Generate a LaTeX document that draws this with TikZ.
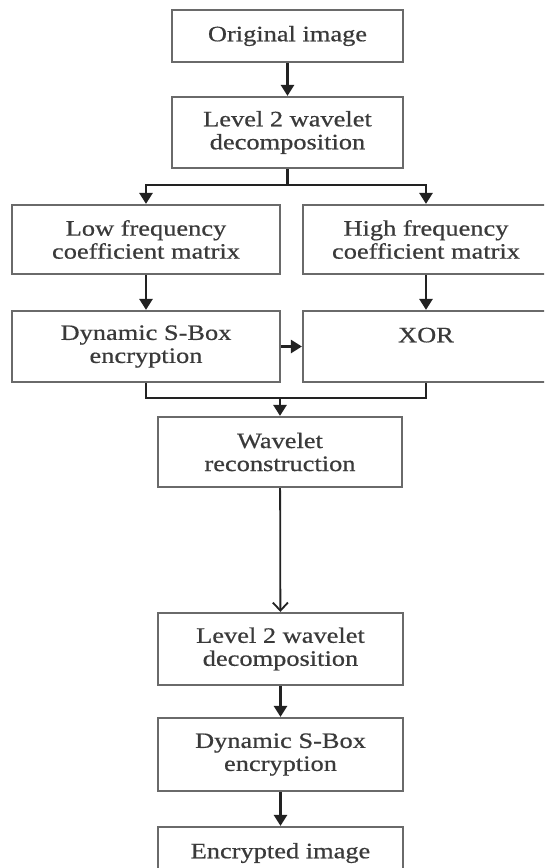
\documentclass[tikz,border=0pt]{standalone}
\usepackage{fontspec}
\setmainfont{Liberation Serif}[FakeStretch=1.2, FakeBold=0.6]
\usepackage{tikz}
\usetikzlibrary{arrows.meta, positioning}
\definecolor{boxgray}{HTML}{6A6A6A}
\definecolor{txtgray}{HTML}{3A3A3A}
\definecolor{linegray}{HTML}{222222}

\begin{document}
\begin{tikzpicture}[x=1pt, y=-1pt,
        box/.style={rectangle, draw=boxgray, line width=2.2pt, fill=white, text=txtgray,
            align=center, inner sep=0pt, font=\fontsize{22}{23}\selectfont},
        wide/.style={box, minimum width=231pt},
        arrow/.style={draw=linegray, line width=2.6pt, -{Triangle[length=11pt, width=13pt]}},
        wire/.style={draw=linegray, line width=2.6pt},
        thin arrow/.style={draw=linegray, line width=1.8pt, -{Straight Barb[length=8pt, width=15pt]}}
    ]
        \path[use as bounding box, clip] (0,0) rectangle (544,868);
        \fill[white] (0,0) rectangle (544,868);

        % top part
        \node[wide, minimum height=52pt] (orig) at (287.5,36) {Original image};
        \node[wide, minimum height=71pt] (dec1) at (287.5,132.5) {Level 2 wavelet\\decomposition};
        \node[box, minimum width=268pt, minimum height=69pt] (low) at (146,239.5) {Low frequency\\coefficient matrix};
        \node[box, minimum width=246pt, minimum height=69pt] (high) at (426,239.5) {High frequency\\coefficient matrix};
        \node[box, minimum width=268pt, minimum height=71pt] (sbox1) at (146,346.5) {Dynamic S-Box\\encryption};
        \node[box, minimum width=246pt, minimum height=71pt] (xor) at (426,346.5) {XOR\\\mbox{}};
        \node[box, minimum width=244pt, minimum height=70pt] (wrec) at (280,452) {Wavelet\\reconstruction};

        % bottom part
        \node[box, minimum width=245pt, minimum height=72pt] (dec2) at (280.5,649) {Level 2 wavelet\\decomposition};
        \node[box, minimum width=245pt, minimum height=73pt] (sbox2) at (280.5,754.5) {Dynamic S-Box\\encryption};
        \node[box, minimum width=245pt, minimum height=52pt] (enc) at (280.5,853) {Encrypted image};

        \coordinate (split) at (287.5,185);
        \coordinate (merge) at (280,398);

        \draw[arrow] (orig) -- (dec1);
        \draw[wire] (dec1.south) -- (split);
        \draw[arrow] (split) -| (low.north);
        \draw[arrow] (split) -| (high.north);
        \draw[arrow] (low) -- (sbox1);
        \draw[arrow] (high) -- (xor);
        \draw[arrow] (sbox1) -- (xor);
        \draw[wire] (sbox1.south) |- (xor.south |- merge) -- (xor.south);
        \draw[arrow] (merge) -- (wrec.north);
        \draw[thin arrow] (wrec) -- (dec2);
        \draw[arrow] (dec2) -- (sbox2);
        \draw[arrow] (sbox2) -- (enc);
    \end{tikzpicture}
\end{document}
